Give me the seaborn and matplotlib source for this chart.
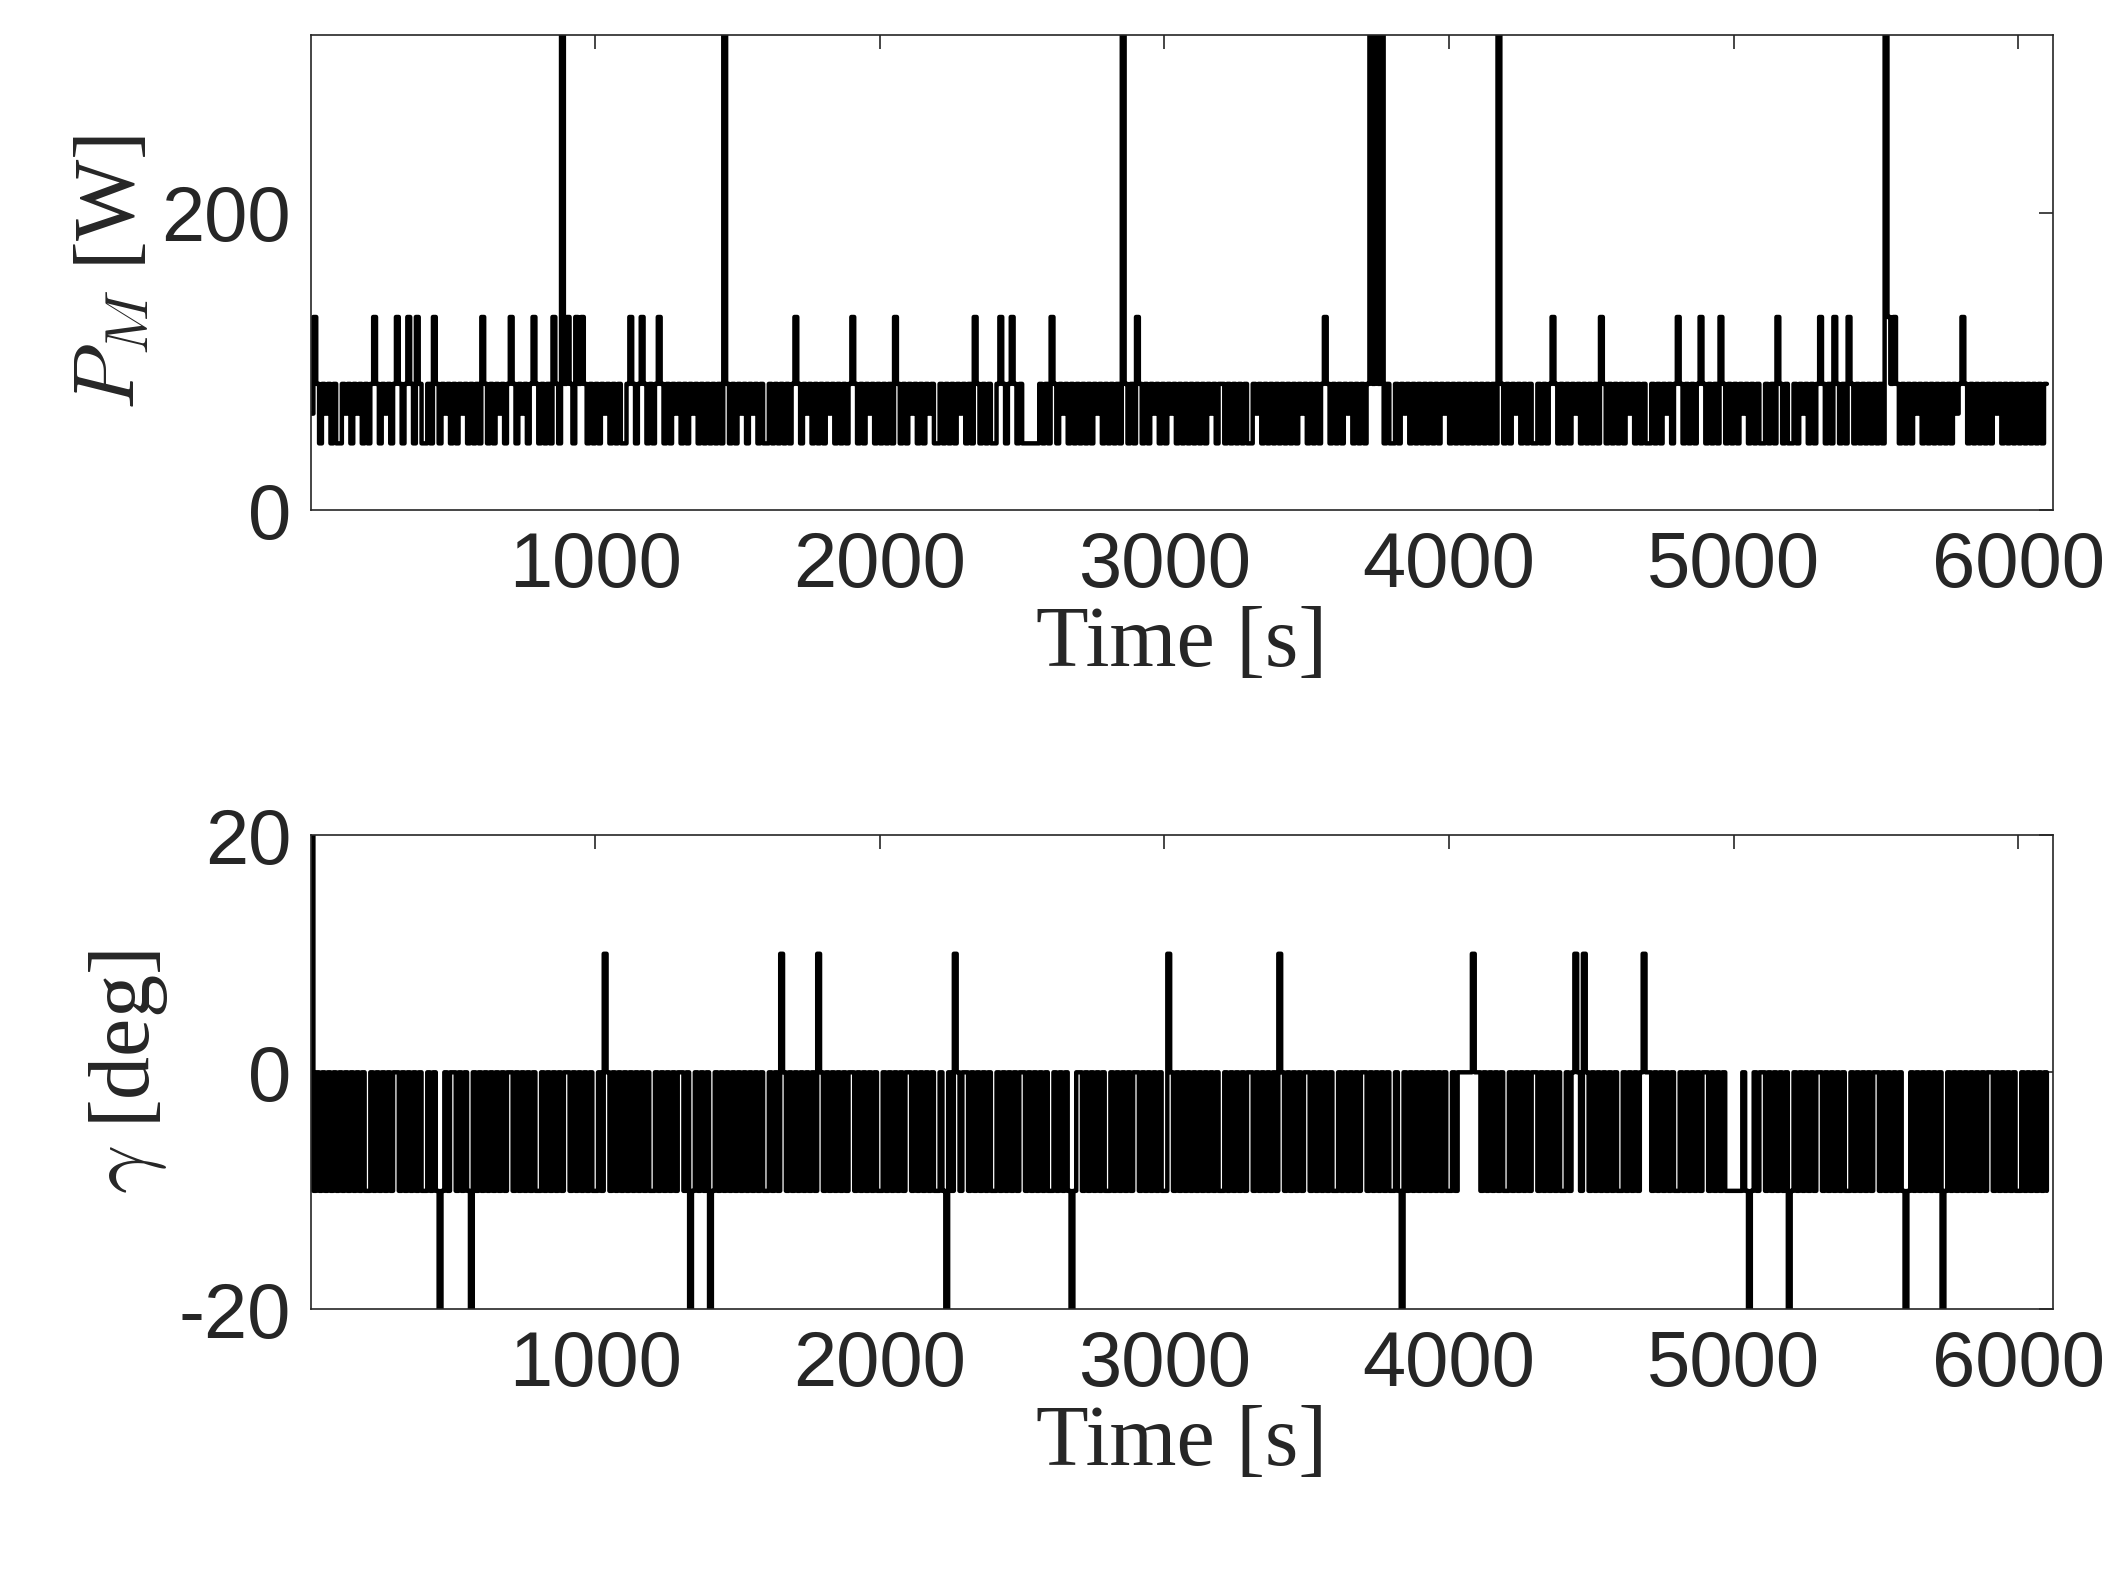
import numpy as np
import pandas as pd
import matplotlib
matplotlib.use("Agg")
import matplotlib.pyplot as plt
import seaborn as sns

DT = 10
# power levels coded by letter, one letter per 10 s
P_LEVELS = {"a": 45, "b": 65, "c": 85, "d": 130, "e": 400}
P_CODES = [
 "bdcacbcaca","acbcacbcac","acdcacbcac","dcacdcadca","acadcacbca",
 "cacbcacaca","dcacacbcac","dcacbcacdc","acacadcaec","dcadcdcaca",
 "cacbcacaca","acdcacdcac","acdcacacbc","acacbcacac","acacaecaca",
 "cbcacbcaca","acacacacac","dcacbcacac","acbcacacac","dcacacbcac",
 "acacadcaca","cbcacacbca","acacacacbc","acadcacaca","acdcacdcac",
 "aaaaaacaca","dcacbcacac","acacacbcac","acacaecaca","dcacacbcac",
 "acbcacacac","acacacbcac","cacacacaca","acbcacacac","acacacacbc",
 "acacacdcac","acacbcacac","acececeaca","acacbcacac","acacacacbc",
 "acacacacac","acacacaeca","cacbcacaca","acacacdcac","acacbcacac",
 "acadcacaca","cacbcacaca","acacacbcac","dcacacacdc","acacadcaca",
 "cacbcacaca","acacadcaca","acacbcacac","dcacadcaca","dcacacacac",
 "acaedcdcac","acacbcacac","acacacacbc","dcacacacac","acbcacacac",
 "acacacacac","c"]
G_LEVELS = {"a": -20, "b": -10, "c": 0, "d": 10, "e": 20}
G_CODES = [
 "ebcbcbcbcb","cbcbcbcbcb","bcbcbcbcbc","cbcbcbcbcb","bcbcbabcbc",
 "cbcbcbacbc","bcbcbcbcbc","cbcbcbcbcb","bcbcbcbcbc","cbcbcbcbcb",
 "bcbdcbcbcb","cbcbcbcbcb","bcbcbcbcbc","cbcabcbcbc","abcbcbcbcb",
 "cbcbcbcbcb","bcbcbdcbcb","cbcbcbcbdc","bcbcbcbcbc","cbcbcbcbcb",
 "bcbcbcbcbc","cbcbcbcbcb","bcbacbdcbc","cbcbcbcbcb","bcbcbcbcbc",
 "cbcbcbcbcb","bcbcbcbabc","cbcbcbcbcb","bcbcbcbcbc","cbcbcbcbcb",
 "bdcbcbcbcb","cbcbcbcbcb","bcbcbcbcbc","cbcbcbcbcb","dcbcbcbcbc",
 "cbcbcbcbcb","bcbcbcbcbc","cbcbcbcbcb","bcbacbcbcb","cbcbcbcbcb",
 "bcbcccccdc","cbcbcbcbcb","bcbcbcbcbc","cbcbcbcbcb","bcbcdcbdcb",
 "cbcbcbcbcb","bcbcbcbcdc","cbcbcbcbcb","bcbcbcbcbc","cbcbcbcbbb",
 "bbbcbabcbc","cbcbcbcbca","bcbcbcbcbc","cbcbcbcbcb","bcbcbcbcbc",
 "cbcbcbcbcb","abcbcbcbcb","cbcabcbcbc","bcbcbcbcbc","cbcbcbcbcb",
 "bcbcbcbcbc","b"]
X_TICKS = [1000, 2000, 3000, 4000, 5000, 6000]

def series(codes, levels):
    s = "".join(codes)
    return pd.DataFrame({"t": np.arange(len(s)) * DT, "v": [levels[c] for c in s]})

dp = series(P_CODES, P_LEVELS)
dg = series(G_CODES, G_LEVELS)

sns.set_style("white")
plt.rcParams["mathtext.fontset"] = "cm"
plt.rcParams["axes.unicode_minus"] = False
fig = plt.figure(figsize=(21.27, 15.7), dpi=100)
ax1 = fig.add_axes([0.146, 0.675, 0.819, 0.303])
ax2 = fig.add_axes([0.146, 0.166, 0.819, 0.302])
tick_font = "Liberation Sans"
lab_font = "Liberation Serif"
for ax, d, ylim, yt, ylab in [(ax1, dp, (0, 320), [0, 200], r"$P_M$ [W]"),
                               (ax2, dg, (-20, 20), [-20, 0, 20], r"$\gamma$ [deg]")]:
    sns.lineplot(data=d, x="t", y="v", ax=ax, color="black", linewidth=3.2,
                 estimator=None, drawstyle="steps-post")
    ax.set_xlim(0, 6120)
    ax.set_ylim(*ylim)
    ax.set_xticks(X_TICKS)
    ax.set_yticks(yt)
    ax.tick_params(direction="in", length=10, width=1.2, top=True, right=True,
                   labelsize=56, pad=14)
    for lbl in ax.get_xticklabels() + ax.get_yticklabels():
        lbl.set_family(tick_font)
        lbl.set_color("#262626")
    for sp in ax.spines.values():
        sp.set_color("#262626")
        sp.set_linewidth(1.2)
    ax.set_xlabel("Time [s]", fontsize=62, family=lab_font, color="#262626", labelpad=2)
    ax.set_ylabel(ylab, fontsize=62, family=lab_font, color="#262626", labelpad=6)
fig.savefig("out.png", dpi=100, facecolor="white")
